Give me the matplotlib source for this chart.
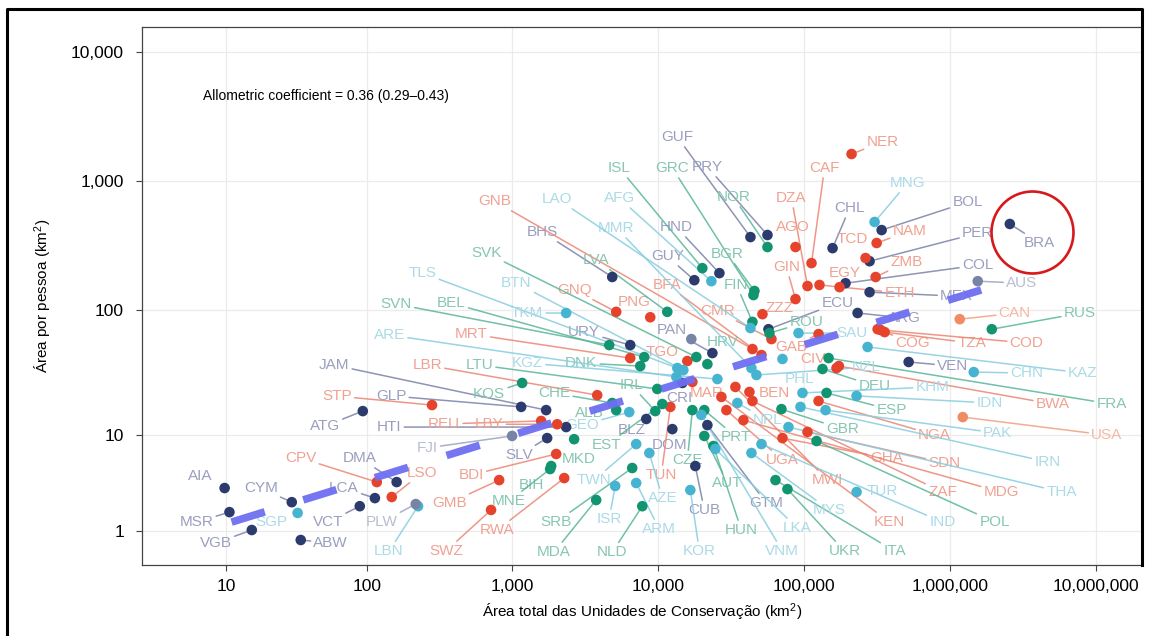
import numpy as np
import matplotlib
matplotlib.use("Agg")
import matplotlib.pyplot as plt
from matplotlib.lines import Line2D
from matplotlib.transforms import offset_copy

plt.rcParams['font.family'] = ['Liberation Sans', 'DejaVu Sans']
plt.rcParams['mathtext.default'] = 'regular'
plt.rcParams['lines.scale_dashes'] = False

# ---- data: total protected area (km2) and protected area per person (km2) ----
americas_codes = ["GUF", "PRY", "HND", "GUY", "BHS", "URY", "PAN", "GLP", "JAM", "ATG",
                  "HTI", "SLV", "DMA", "LCA", "VCT", "ABW", "CYM", "AIA", "MSR", "VGB",
                  "CUB", "DOM", "BLZ", "GTM", "CRI", "CHL", "BOL", "PER", "COL", "MEX",
                  "ARG", "ECU", "VEN", "BRA"]
americas_area = [42910, 56120, 26300, 17710, 4853, 6445, 23540, 1153, 1710, 94,
                 2346, 1738, 161, 114, 89.6, 34.7, 30, 9.75, 10.6, 15.5,
                 17990, 12520, 8300, 21760, 14660, 156700, 339700, 280900, 192300, 280900,
                 232500, 57020, 520000, 2564000]
americas_pp = [369, 383, 194, 171, 181, 53.3, 46.1, 17.1, 16.1, 15.8,
               11.65, 9.4, 3.76, 2.58, 2.1, 0.70, 2.33, 3.28, 1.79, 1.03,
               5.33, 11.2, 13.6, 12.1, 26.7, 303, 418, 240, 162, 138,
               95, 71, 39.2, 466]

africa_codes = ["GNB", "GNQ", "PNG", "BFA", "CMR", "MRT", "TGO", "LBR", "STP", "REU",
                "LBY", "BDI", "GMB", "RWA", "SWZ", "LSO", "CPV", "TUN", "MAR", "ZZZ",
                "GAB", "CIV", "BWA", "COG", "TZA", "COD", "NGA", "SDN", "GHA", "BEN",
                "ZAF", "MDG", "KEN", "MWI", "UGA", "NER", "CAF", "DZA", "AGO", "TCD",
                "NAM", "ZMB", "EGY", "GIN", "ETH"]
africa_area = [44290, 5165, 8840, 51060, 59770, 6445, 15860, 3828, 282, 1581,
               2036, 2004, 815, 2275, 717, 149, 117.5, 12130, 17170, 51860,
               125600, 166800, 173000, 318900, 356200, 334000, 125600, 105500, 71100, 42230,
               44290, 38390, 27140, 33850, 29380, 211400, 112400, 105500, 87290, 263600,
               314000, 309000, 175000, 87290, 127500]
africa_pp = [49.6, 97, 88, 44.5, 59.4, 42.1, 39.9, 21.3, 17.7, 13.1,
             12.3, 6.84, 3.93, 4.11, 1.90, 2.65, 3.76, 17.1, 27.2, 93,
             65, 35.1, 36.4, 71, 67.4, 70, 19.1, 10.6, 9.4, 22.6,
             19.1, 13.3, 20.6, 24.8, 16.1, 1618, 232, 154, 309, 254,
             332, 181, 151, 122, 157]

europe_codes = ["NOR", "ISL", "GRC", "BGR", "FIN", "LVA", "SVK", "SVN", "BEL", "HRV",
                "DNK", "LTU", "IRL", "CHE", "ALB", "KOS", "MKD", "BIH", "MNE", "SRB",
                "MDA", "NLD", "EST", "CZE", "AUT", "HUN", "PRT", "UKR", "ITA", "DEU",
                "FRA", "ESP", "GBR", "POL", "ROU", "RUS"]
europe_area = [56120, 20090, 44990, 45710, 44290, 11560, 18280, 4627, 8040, 21760,
               7550, 9870, 9570, 4853, 5165, 1171, 2660, 1852, 1822, 6650,
               3767, 7795, 10690, 17170, 20730, 23920, 20730, 76920, 63680, 133700,
               147100, 142500, 69970, 121700, 57920, 1930000]
europe_pp = [309, 212, 131, 141, 81, 97, 42.9, 53.3, 42.9, 37.7,
             36.4, 23.9, 15.8, 18.4, 16.1, 26.7, 9.2, 5.33, 5.0, 5.11,
             2.46, 2.1, 18.05, 16.1, 9.8, 8.03, 16.1, 3.2, 3.93, 34.5,
             42.1, 22.2, 16.4, 8.87, 66.2, 71]

asia_codes = ["AFG", "MMR", "LAO", "TLS", "BTN", "TKM", "ARE", "KGZ", "GEO", "LBN",
              "SGP", "ISR", "TWN", "AZE", "ARM", "KOR", "LKA", "VNM", "MYS", "NPL",
              "PHL", "NZL", "IND", "KHM", "IDN", "PAK", "IRN", "THA", "TUR", "SAU",
              "KAZ", "CHN", "MNG"]
asia_area = [23170, 43590, 42910, 13550, 14890, 2346, 13340, 25470, 6345, 226,
             33, 5085, 7080, 8710, 7080, 16630, 24670, 19770, 43590, 34930,
             71100, 47170, 51060, 97520, 228800, 140300, 94470, 78150, 228800, 91570,
             272200, 1452000, 304000]
asia_pp = [168, 35.1, 72.5, 35.1, 33.8, 95, 29.8, 28.7, 15.5, 2.1,
           1.75, 3.44, 8.35, 6.98, 3.68, 3.13, 7.57, 14.7, 6.98, 18.4,
           41.4, 30.9, 8.35, 22.2, 21.0, 16.1, 17.1, 11.65, 2.99, 66.2,
           51.5, 32.6, 483]

oceania_codes = ["AUS", "FJI", "PLW", ""]
oceania_area = [1546000, 999, 218, 16890]
oceania_pp = [168, 9.8, 2.22, 59.4]

northam_codes = ["CAN", "USA"]
northam_area = [1164000, 1221000]
northam_pp = [85, 14.1]

# fitted allometric line in log10(x+1) space
fit_slope = 0.349
fit_intercept = -0.008
fit_range = [11, 1.66e6]

# ---- layout: label offsets from their point, in pixels (x right, y up) ----
label_offsets = {
    "GUF": (-73, 100), "PRY": (-60, 68), "NOR": (-34, 50), "ISL": (-83, 100), "GRC": (-81, 127),
    "BGR": (-27, 37), "FIN": (-16, 37), "HND": (-43, 46), "GUY": (-27, 24), "AFG": (-92, 83),
    "MMR": (-135, 140), "LAO": (-193, 129), "GNB": (-258, 148), "BHS": (-70, 45), "LVA": (-71, 52),
    "SVK": (-210, 104), "TLS": (-255, 95), "BTN": (-167, 87), "GNQ": (-42, 22), "PNG": (-16, 15),
    "BFA": (-94, 70), "CMR": (-54, 28), "SVN": (-213, 41), "BEL": (-193, 54), "TKM": (-39, 0),
    "ARE": (-287, 42), "MRT": (-159, 24), "URY": (-46, 13), "PAN": (-41, 23), "HRV": (15, 22),
    "TGO": (-25, 9), "DNK": (-59, 3), "LBR": (-170, 30), "LTU": (-178, 24), "KGZ": (-190, 16),
    "IRL": (-24, 26), "CHE": (-58, 10), "ALB": (-27, -3), "GEO": (-47, -13), "KOS": (-33, -11),
    "GLP": (-130, 11), "JAM": (-212, 45), "STP": (-95, 9), "ATG": (-38, -15), "HTI": (-177, 0),
    "REU": (-97, -3), "LBY": (-68, 0), "FJI": (-85, -12), "SLV": (-28, -17), "MKD": (5, -20),
    "BDI": (-85, -21), "BIH": (-20, -19), "MNE": (-41, -32), "GMB": (-50, -23), "RWA": (-67, -52),
    "SWZ": (-45, -41), "LSO": (30, 24), "PLW": (-34, -18), "LBN": (-29, -45), "DMA": (-37, 24),
    "CPV": (-76, 24), "LCA": (-31, 10), "VCT": (-32, -16), "ABW": (30, -3), "CYM": (-31, 14),
    "SGP": (-26, -9), "AIA": (-24, 12), "MSR": (-33, -10), "VGB": (-36, -13),
    "SRB": (-76, -54), "MDA": (-42, -52), "NLD": (-30, -46), "ISR": (-6, -33), "TWN": (-42, -36),
    "EST": (-56, -41), "AZE": (13, -45), "ARM": (23, -46), "KOR": (9, -61), "CUB": (9, -44),
    "DOM": (-3, -16), "TUN": (-9, -68), "BLZ": (-15, -11), "CZE": (-5, -50), "AUT": (23, -47),
    "HUN": (28, -84), "GTM": (59, -78), "PRT": (32, -27), "CRI": (-3, -15), "MAR": (14, -11),
    "LKA": (82, -79), "VNM": (81, -136), "MYS": (78, -57), "UKR": (57, -62), "ITA": (119, -71),
    "NPL": (30, -17), "PHL": (17, -20), "NZL": (110, 8), "IND": (181, -78), "KHM": (130, 6),
    "IDN": (133, -7), "PAK": (172, -23), "IRN": (247, -55), "THA": (273, -65), "TUR": (26, 1),
    "SAU": (53, 0), "KAZ": (215, -26), "CHN": (53, -1), "MNG": (33, 39), "DEU": (52, -17),
    "FRA": (283, -46), "ESP": (65, -17), "GBR": (61, -20), "POL": (178, -81), "ROU": (37, 11),
    "RUS": (88, 16), "ZZZ": (17, 6), "GAB": (-27, -13), "CIV": (-24, 9), "BWA": (214, -38),
    "COG": (35, -14), "TZA": (87, -11), "COD": (146, -13), "NGA": (116, -34), "SDN": (137, -31),
    "GHA": (104, -20), "BEN": (25, -1), "ZAF": (190, -91), "MDG": (258, -72), "KEN": (168, -125),
    "MWI": (92, -93), "UGA": (56, -50), "NER": (31, 12), "CAF": (13, 95), "DZA": (-16, 88),
    "AGO": (-3, 20), "TCD": (-13, 19), "NAM": (33, 12), "ZMB": (31, 15), "EGY": (5, 14),
    "GIN": (-9, 32), "ETH": (80, -8), "CHL": (17, 40), "BOL": (86, 28), "PER": (108, 28),
    "COL": (132, 18), "MEX": (87, -4), "ARG": (47, -5), "ECU": (69, 26), "VEN": (44, -4),
    "BRA": (30, -19), "AUS": (44, -2), "CAN": (55, 6), "USA": (144, -18),
}

regions = [
    (americas_codes, americas_area, americas_pp, '#2C3B6E', '#9A9FBE', '#7A81A6'),
    (africa_codes, africa_area, africa_pp, '#E5432C', '#F0A292', '#EC8573'),
    (europe_codes, europe_area, europe_pp, '#11946F', '#86C7B1', '#58B598'),
    (asia_codes, asia_area, asia_pp, '#46B4D0', '#ABDBE8', '#86CDE0'),
    (oceania_codes, oceania_area, oceania_pp, '#7884A6', '#B8BED2', '#9AA2BE'),
    (northam_codes, northam_area, northam_pp, '#F08B66', '#F6B8A2', '#F29D80'),
]


def fwd(v):
    return np.log10(np.clip(np.asarray(v, dtype=float) + 1, 1e-9, None))


def inv(v):
    return 10 ** np.asarray(v, dtype=float) - 1


fig = plt.figure(figsize=(11.57, 6.36), dpi=100)
ax = fig.add_axes([0.1227, 0.1116, 0.8643, 0.8459])
ax.set_xscale('function', functions=(fwd, inv))
ax.set_yscale('function', functions=(fwd, inv))
ax.set_xlim(1.92, 2.06e7)
ax.set_ylim(0.09, 15460)

xt = [10, 100, 1000, 10000, 100000, 1000000, 10000000]
yt = [1, 10, 100, 1000, 10000]
ax.set_xticks(xt)
ax.set_xticklabels([f"{v:,}" for v in xt])
ax.set_yticks(yt)
ax.set_yticklabels([f"{v:,}" for v in yt])
ax.minorticks_off()
ax.grid(True, color='#EBEBEB', lw=0.9)
ax.set_axisbelow(True)
for s in ax.spines.values():
    s.set_color('#444444')
    s.set_linewidth(0.9)
ax.tick_params(length=4, width=0.8, color='#444444', labelsize=12.5)
ax.tick_params(axis='x', pad=6)
ax.tick_params(axis='y', pad=9)

for codes, xs, ys, pcol, tcol, lcol in regions:
    for c, x, y in zip(codes, xs, ys):
        if not c:
            continue
        dx, dy = label_offsets[c]
        arrow = None
        if np.hypot(dx, dy) > 28:
            arrow = dict(arrowstyle='-', color=lcol, lw=1.1, alpha=0.85,
                         shrinkA=0, shrinkB=4)
        ax.annotate(c, xy=(x, y), xytext=(dx, dy), textcoords='offset pixels',
                    ha='center', va='center', fontsize=11, color=tcol,
                    arrowprops=arrow, zorder=2)
    ax.scatter(xs, ys, s=58, color=pcol, edgecolors='none', zorder=3)

# fitted line
fx = np.array(fit_range)
fy = inv(fit_intercept + fit_slope * fwd(fx))
ax.plot(fx, fy, color='#6F6FF2', lw=5.5, linestyle=(0, (25, 29)),
        dash_capstyle='butt', alpha=0.95, zorder=5)

ax.text(0.061, 0.872, "Allometric coefficient = 0.36 (0.29\u20130.43)",
        transform=ax.transAxes, fontsize=10, va='center', ha='left')

# highlight circle around Brazil
bra_i = americas_codes.index("BRA")
circ_tr = offset_copy(ax.transData, fig=fig, x=22, y=-8, units='dots')
ax.plot([americas_area[bra_i]], [americas_pp[bra_i]], marker='o', markersize=59,
        mfc='none', mec='#D7191C', mew=1.9, transform=circ_tr, zorder=6)

ax.set_xlabel("Área total das Unidades de Conservação (km$^2$)", fontsize=11, labelpad=6)
ax.set_ylabel("Área por pessoa (km$^2$)", fontsize=11, labelpad=12)

# outer frame of the picture
fig.add_artist(Line2D([0.006, 0.006, 0.987, 0.987], [0.0, 0.9858, 0.9858, 0.1116],
                      transform=fig.transFigure, color='black', lw=2.2))

fig.savefig("out.png", dpi=100)
